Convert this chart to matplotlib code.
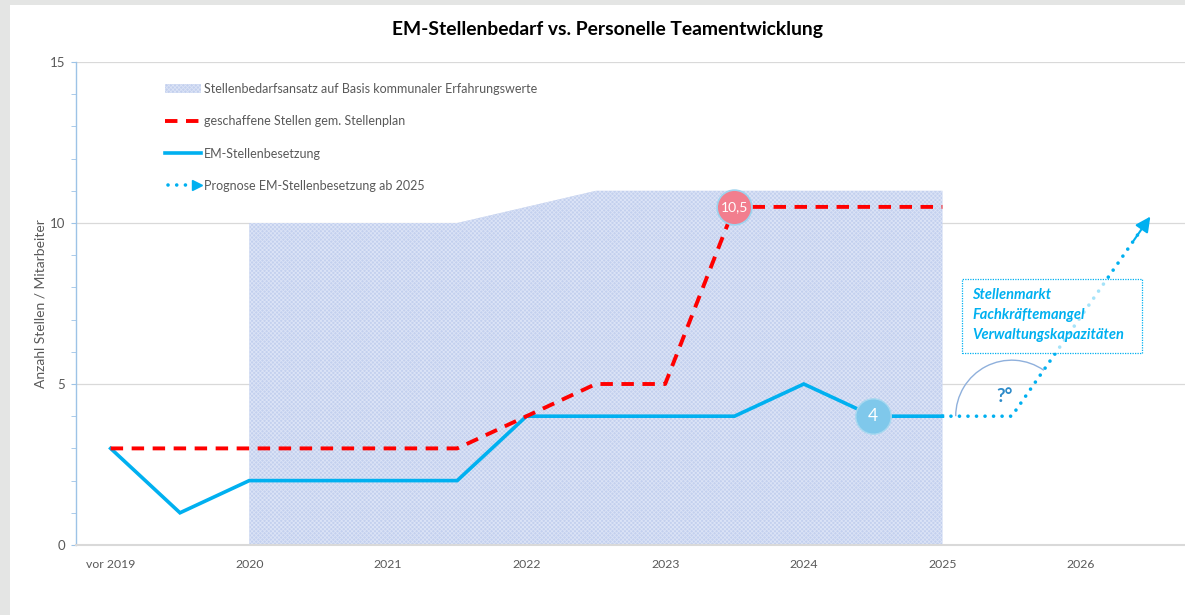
import numpy as np
import matplotlib
matplotlib.use("Agg")
import matplotlib.pyplot as plt
from matplotlib.lines import Line2D
from matplotlib.patches import Patch, Rectangle, Arc
from matplotlib.legend_handler import HandlerBase

plt.rcParams['font.family'] = ['Lato', 'DejaVu Sans']
plt.rcParams['hatch.linewidth'] = 0.6

# ---------------- data ----------------
categories = ["vor 2019", "", "2020", "", "2021", "", "2022", "", "2023", "",
              "2024", "", "2025", "", "2026", ""]
bedarf_idx = [2, 3, 4, 5, 6, 7, 8, 9, 10, 11, 12]
bedarf = [10, 10, 10, 10, 10.5, 11, 11, 11, 11, 11, 11]
plan_idx = list(range(13))
stellenplan = [3, 3, 3, 3, 3, 3, 4, 5, 5, 10.5, 10.5, 10.5, 10.5]
besetzung_idx = list(range(13))
besetzung = [3, 1, 2, 2, 2, 2, 4, 4, 4, 4, 5, 4, 4]
prognose_idx = [12, 13, 15]
prognose = [4, 4, 10.2]
label_plan_idx, label_plan_val = 9, 10.5
label_bes_idx, label_bes_val = 11, 4
info_lines = ["Stellenmarkt", "Fachkräftemangel", "Verwaltungskapazitäten"]

title = "EM-Stellenbedarf vs. Personelle Teamentwicklung"
ylabel = "Anzahl Stellen / Mitarbeiter"
legend_labels = ["Stellenbedarfsansatz auf Basis kommunaler Erfahrungswerte",
                 "geschaffene Stellen gem. Stellenplan",
                 "EM-Stellenbesetzung",
                 "Prognose EM-Stellenbesetzung ab 2025"]

# ---------------- style ----------------
RED = "#ff0000"
BLUE = "#00b0f0"
AREA_FACE = "#c3d0ee"
AREA_HATCH = "#dbe3f6"
GRAY_TXT = "#595959"

fig = plt.figure(figsize=(11.85, 6.15), dpi=100, facecolor="#e4e5e4")
fig.patches.append(Rectangle((10 / 1185, 0), 1, (615 - 5) / 615, transform=fig.transFigure,
                             facecolor="white", edgecolor="none", zorder=-5))

ax = fig.add_axes([76 / 1185, (615 - 545) / 615, (1185 - 76) / 1185, (545 - 62) / 615])
ax.set_zorder(2)
ax.set_facecolor("none")
ax.set_xlim(-0.5, 15.5)
ax.set_ylim(0, 15)

# grid
ax.set_yticks([0, 5, 10, 15])
ax.set_yticks(np.arange(0, 16, 1), minor=True)
ax.yaxis.grid(True, which="major", color="#d9d9d9", lw=0.9)
ax.set_axisbelow(True)
for s in ["top", "right"]:
    ax.spines[s].set_visible(False)
ax.spines["left"].set_color("#9dc3e6")
ax.spines["left"].set_linewidth(1.0)
ax.spines["bottom"].set_color("#d9d9d9")
ax.spines["bottom"].set_linewidth(1.5)
ax.tick_params(axis="y", which="both", length=3.5, color="#9dc3e6", labelcolor=GRAY_TXT,
               labelsize=9.5, pad=4.5)
ax.set_xticks(range(len(categories)))
ax.set_xticklabels(categories)
ax.tick_params(axis="x", length=0, labelcolor=GRAY_TXT, labelsize=8.8, pad=10)
ax.set_ylabel(ylabel, color=GRAY_TXT, fontsize=10, labelpad=2)

# area
ax.fill_between(bedarf_idx, 0, bedarf, facecolor=AREA_FACE, edgecolor=AREA_HATCH,
                hatch="xxxxxxxx", linewidth=0, zorder=1)

# lines
ax.plot(besetzung_idx, besetzung, color=BLUE, lw=2.6, solid_joinstyle="miter", zorder=3)
ax.plot(plan_idx, stellenplan, color=RED, lw=2.8, linestyle=(0, (3.2, 2.2)), zorder=4)
ax.plot(prognose_idx, prognose, color=BLUE, lw=2.6, linestyle=(0, (0.01, 2.35)),
        dash_capstyle="round", zorder=4)
# arrow head at end of prognosis
x0, y0 = prognose_idx[-2], prognose[-2]
x1, y1 = prognose_idx[-1], prognose[-1]
ax.annotate("", xy=(x1, y1), xytext=(x1 - 0.12 * (x1 - x0), y1 - 0.12 * (y1 - y0)),
            arrowprops=dict(arrowstyle="-|>,head_length=0.9,head_width=0.45",
                            color=BLUE, lw=1.5, shrinkA=0, shrinkB=0), zorder=5)

# data labels
ax.plot([label_plan_idx], [label_plan_val], "o", ms=25, mfc="#f27e8e", mec="#9dd3ee",
        mew=1.2, zorder=6)
ax.text(label_plan_idx, label_plan_val, "10,5", color="white", fontsize=10,
        ha="center", va="center", zorder=7)
ax.plot([label_bes_idx], [label_bes_val], "o", ms=25.5, mfc="#7fc8eb", mec="#a7d8f0",
        mew=1.0, zorder=6)
ax.text(label_bes_idx, label_bes_val, "4", color="white", fontsize=12.5,
        ha="center", va="center", zorder=7)

# angle arc + ?°
ax.add_patch(Arc((13, 4), 1.616, 3.48, theta1=72, theta2=180, color="#8fb0dc", lw=1.0,
                 zorder=2))
ax.text(12.89, 4.6, "?°", color="#2e8bc9", fontsize=13.5, fontweight="bold",
        ha="center", va="center", zorder=5)

# info box
ax.add_patch(Rectangle((12.28, 5.96), 14.88 - 12.28, 8.26 - 5.96, facecolor="white",
                       alpha=0.65, edgecolor="none", zorder=5))
ax.add_patch(Rectangle((12.28, 5.96), 14.88 - 12.28, 8.26 - 5.96, facecolor="none",
                       edgecolor=BLUE, lw=0.9, linestyle=(0, (1, 1)), zorder=6))
for i, t in enumerate(info_lines):
    ax.text(12.43, 7.76 - i * 0.62, t, color=BLUE, fontsize=10.5, fontweight="bold",
            fontstyle="italic", ha="left", va="center", zorder=7)

# title
fig.text(607 / 1185, 1 - 30 / 615, title, ha="center", va="center", fontsize=13.9,
         fontweight="bold", color="black")


# legend
class ArrowHandler(HandlerBase):
    def create_artists(self, legend, orig_handle, xdescent, ydescent, width, height,
                       fontsize, trans):
        y = height / 2 - ydescent
        line = Line2D([-xdescent + 2, width - xdescent - 6], [y, y], color=BLUE, lw=2.6,
                      linestyle=(0, (0.01, 2.4)), dash_capstyle="round", transform=trans)
        head = Line2D([width - xdescent - 3], [y], marker=">", ms=7, color=BLUE,
                      mec=BLUE, transform=trans)
        return [line, head]


h_area = Patch(facecolor=AREA_FACE, edgecolor=AREA_HATCH, hatch="xxxxxxxx", linewidth=0)
h_red = Line2D([], [], color=RED, lw=2.8, linestyle=(0, (3.2, 2.2)))
h_blue = Line2D([], [], color=BLUE, lw=2.6)
h_prog = object()
leg = ax.legend([h_area, h_red, h_blue, h_prog], legend_labels,
                handler_map={h_prog: ArrowHandler()},
                loc="upper left", bbox_to_anchor=(84 / 1109, 1 - 16 / 483),
                frameon=False, fontsize=9, labelcolor=GRAY_TXT, handlelength=2.9,
                handletextpad=0.2, labelspacing=1.62, borderaxespad=0)

fig.savefig("out.png", dpi=100, facecolor=fig.get_facecolor())
